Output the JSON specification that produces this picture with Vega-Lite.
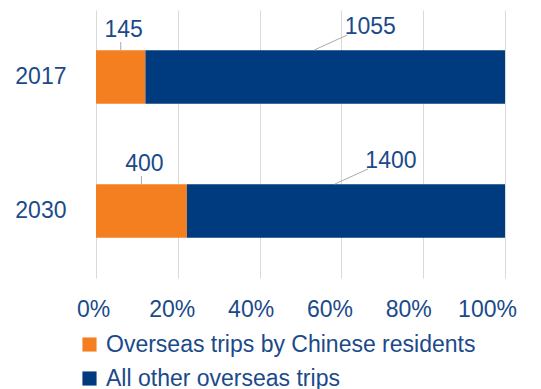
{
  "$schema": "https://vega.github.io/schema/vega-lite/v6.json",
  "width": 409,
  "height": 268,
  "autosize": {"type": "none"},
  "padding": {"left": 96, "top": 10, "right": 36, "bottom": 111},
  "background": "white",
  "config": {
    "view": {"stroke": null},
    "font": "Liberation Sans",
    "text": {"font": "Liberation Sans"}
  },
  "data": {
    "values": [
      {"year": "2017", "series": "Overseas trips by Chinese residents", "trips": 145},
      {"year": "2017", "series": "All other overseas trips", "trips": 1055},
      {"year": "2030", "series": "Overseas trips by Chinese residents", "trips": 400},
      {"year": "2030", "series": "All other overseas trips", "trips": 1400}
    ]
  },
  "transform": [
    {"stack": "trips", "groupby": ["year"], "offset": "normalize", "sort": [{"field": "series", "order": "descending"}], "as": ["p0", "p1"]},
    {"calculate": "(datum.p0 + datum.p1) / 2", "as": "mid"}
  ],
  "encoding": {
    "y": {
      "field": "year", "type": "nominal", "sort": ["2017", "2030"],
      "scale": {"paddingInner": 0.6, "paddingOuter": 0.3},
      "axis": {"title": null, "domain": false, "ticks": false, "labelPadding": 30, "labelFontSize": 23, "labelColor": "#1B4A8A", "labelFont": "Liberation Sans"}
    }
  },
  "layer": [
    {
      "mark": {"type": "bar"},
      "encoding": {
        "x": {
          "field": "p0", "type": "quantitative",
          "scale": {"domain": [0, 1], "nice": false},
          "axis": {"title": null, "format": "%", "values": [0, 0.2, 0.4, 0.6, 0.8, 1], "domain": false, "ticks": false, "grid": true, "gridColor": "#D9D9D9", "gridWidth": 1, "labelPadding": 20, "labelFontSize": 23, "labelColor": "#1B4A8A", "labelFont": "Liberation Sans", "labelFlush": false,
            "labelOffset": {"expr": "-3 - 15 * datum.value"}}
        },
        "x2": {"field": "p1"},
        "color": {
          "field": "series", "type": "nominal",
          "scale": {"domain": ["Overseas trips by Chinese residents", "All other overseas trips"], "range": ["#F47F20", "#003A7F"]},
          "legend": {"title": null, "orient": "none", "legendX": -18, "legendY": 323, "direction": "vertical", "symbolType": "square", "symbolSize": 200, "symbolStrokeWidth": 0, "labelFontSize": 23, "labelColor": "#1B4A8A", "labelFont": "Liberation Sans", "rowPadding": 10, "labelOffset": 5, "labelLimit": 500}
        }
      }
    },
    {
      "transform": [{"filter": "datum.series === 'Overseas trips by Chinese residents'"}],
      "mark": {"type": "rule", "color": "#AAAAAA", "strokeWidth": 1, "yOffset": -27, "y2Offset": -35},
      "encoding": {"x": {"field": "mid", "type": "quantitative"}, "y2": {"field": "year"}}
    },
    {
      "transform": [{"filter": "datum.series === 'Overseas trips by Chinese residents'"}],
      "mark": {"type": "text", "dx": 3, "dy": -47, "fontSize": 23, "color": "#1B4A8A", "baseline": "middle"},
      "encoding": {"x": {"field": "mid", "type": "quantitative"}, "text": {"field": "trips", "type": "quantitative"}}
    },
    {
      "transform": [{"filter": "datum.series === 'All other overseas trips'"}],
      "mark": {"type": "rule", "color": "#AAAAAA", "strokeWidth": 1, "xOffset": -11, "x2Offset": 22, "yOffset": -27, "y2Offset": -42},
      "encoding": {"x": {"field": "mid", "type": "quantitative"}, "x2": {"field": "mid"}, "y2": {"field": "year"}}
    },
    {
      "transform": [{"filter": "datum.series === 'All other overseas trips'"}],
      "mark": {"type": "text", "dx": 45, "dy": -50, "fontSize": 23, "color": "#1B4A8A", "baseline": "middle"},
      "encoding": {"x": {"field": "mid", "type": "quantitative"}, "text": {"field": "trips", "type": "quantitative"}}
    }
  ]
}
